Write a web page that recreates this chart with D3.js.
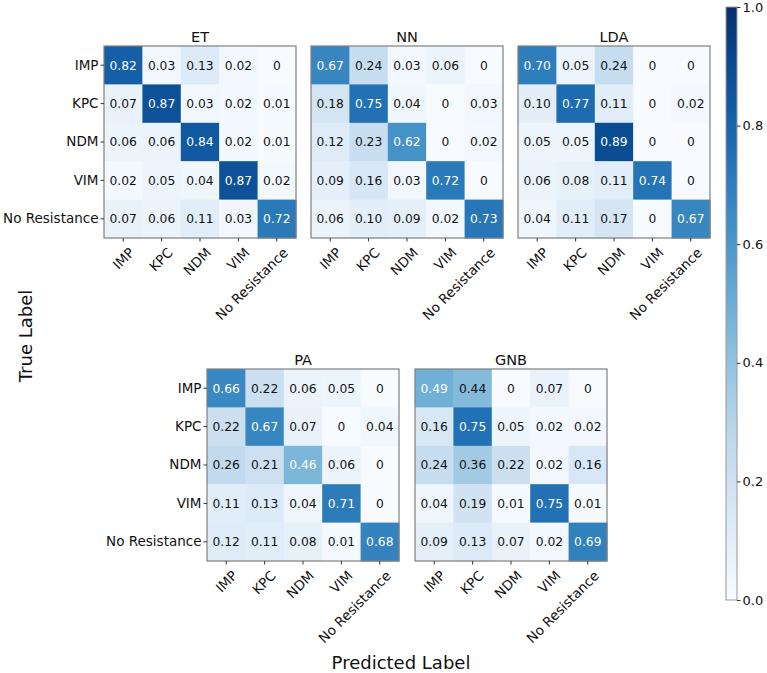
<!DOCTYPE html>
<html>
<head>
<meta charset="utf-8">
<script src="https://cdn.jsdelivr.net/npm/d3@7"></script>
<style>
  body { margin: 0; background: #fff; }
  svg text { font-family: "DejaVu Sans", sans-serif; }
  .axis path { display: none; }
  .axis line { stroke: #333; }
</style>
</head>
<body>
<div id="chart"></div>
<script>
// class labels (rows = true, columns = predicted)
const classes = ["IMP", "KPC", "NDM", "VIM", "No Resistance"];

// normalised confusion matrices, one per model
const etValues = [
    [0.82, 0.03, 0.13, 0.02, 0],
    [0.07, 0.87, 0.03, 0.02, 0.01],
    [0.06, 0.06, 0.84, 0.02, 0.01],
    [0.02, 0.05, 0.04, 0.87, 0.02],
    [0.07, 0.06, 0.11, 0.03, 0.72]
];
const nnValues = [
    [0.67, 0.24, 0.03, 0.06, 0],
    [0.18, 0.75, 0.04, 0, 0.03],
    [0.12, 0.23, 0.62, 0, 0.02],
    [0.09, 0.16, 0.03, 0.72, 0],
    [0.06, 0.10, 0.09, 0.02, 0.73]
];
const ldaValues = [
    [0.70, 0.05, 0.24, 0, 0],
    [0.10, 0.77, 0.11, 0, 0.02],
    [0.05, 0.05, 0.89, 0, 0],
    [0.06, 0.08, 0.11, 0.74, 0],
    [0.04, 0.11, 0.17, 0, 0.67]
];
const paValues = [
    [0.66, 0.22, 0.06, 0.05, 0],
    [0.22, 0.67, 0.07, 0, 0.04],
    [0.26, 0.21, 0.46, 0.06, 0],
    [0.11, 0.13, 0.04, 0.71, 0],
    [0.12, 0.11, 0.08, 0.01, 0.68]
];
const gnbValues = [
    [0.49, 0.44, 0, 0.07, 0],
    [0.16, 0.75, 0.05, 0.02, 0.02],
    [0.24, 0.36, 0.22, 0.02, 0.16],
    [0.04, 0.19, 0.01, 0.75, 0.01],
    [0.09, 0.13, 0.07, 0.02, 0.69]
];
const colorbarTicks = [0, 0.2, 0.4, 0.6, 0.8, 1.0];

// only the first matrix of each row carries the true-label ticks
const panels = [
    { name: "ET",  values: etValues,  x: 104, y: 46,  yTicks: true },
    { name: "NN",  values: nnValues,  x: 311, y: 46,  yTicks: false },
    { name: "LDA", values: ldaValues, x: 518, y: 46,  yTicks: false },
    { name: "PA",  values: paValues,  x: 207, y: 369, yTicks: true },
    { name: "GNB", values: gnbValues, x: 415, y: 369, yTicks: false }
];

const width = 767, height = 673;
const side = 192;

const svg = d3.select("#chart").append("svg")
    .attr("width", width)
    .attr("height", height);

const color = d3.scaleSequential(d3.interpolateBlues).domain([0, 1]);
const fmt = v => v === 0 ? "0" : v.toFixed(2);

panels.forEach(p => {
    let g = svg.append("g").attr("transform", "translate(" + p.x + "," + p.y + ")");
    let x = d3.scaleBand().domain(classes).range([0, side]);
    let y = d3.scaleBand().domain(classes).range([0, side]);

    let cells = [];
    p.values.forEach((row, i) => row.forEach((v, j) => {
        cells.push({ t: classes[i], p: classes[j], v: v });
    }));

    g.selectAll("rect.cell")
        .data(cells)
        .enter().append("rect")
        .attr("class", "cell")
        .attr("x", d => x(d.p))
        .attr("y", d => y(d.t))
        .attr("width", x.bandwidth() + 0.5)
        .attr("height", y.bandwidth() + 0.5)
        .style("fill", d => color(d.v));

    g.selectAll("text.val")
        .data(cells)
        .enter().append("text")
        .attr("class", "val")
        .attr("x", d => x(d.p) + x.bandwidth() / 2)
        .attr("y", d => y(d.t) + y.bandwidth() / 2)
        .attr("text-anchor", "middle")
        .attr("dy", "0.36em")
        .style("font-size", "12.3px")
        .style("fill", d => d.v > 0.45 ? "#ffffff" : "#111")
        .text(d => fmt(d.v));

    g.append("rect")
        .attr("width", side)
        .attr("height", side)
        .style("fill", "none")
        .style("stroke", "#808080")
        .style("stroke-width", 1.2);

    g.append("text")
        .attr("x", side / 2)
        .attr("y", -4)
        .attr("text-anchor", "middle")
        .style("font-size", "14.5px")
        .style("fill", "#111")
        .text(p.name);

    if (p.yTicks) {
        g.append("g")
            .attr("class", "axis")
            .call(d3.axisLeft(y).tickSize(3.5).tickPadding(2))
            .selectAll("text")
            .style("font-size", "13.5px")
            .style("fill", "#111");
    }

    let xa = g.append("g")
        .attr("class", "axis")
        .attr("transform", "translate(0," + side + ")")
        .call(d3.axisBottom(x).tickSize(3.5));
    xa.selectAll("text")
        .attr("y", 0)
        .attr("dy", 0)
        .attr("text-anchor", "end")
        .attr("transform", "translate(12,15.5) rotate(-45)")
        .style("font-size", "13.5px")
        .style("fill", "#111");
});

// colour bar
const cb = { x: 726, y: 7, w: 11, h: 593 };
const defs = svg.append("defs");
const grad = defs.append("linearGradient")
    .attr("id", "cbgrad")
    .attr("x1", 0).attr("y1", 1).attr("x2", 0).attr("y2", 0);
d3.range(0, 1.0001, 0.05).forEach(t => {
    grad.append("stop").attr("offset", t).attr("stop-color", color(t));
});
svg.append("rect")
    .attr("x", cb.x).attr("y", cb.y)
    .attr("width", cb.w).attr("height", cb.h)
    .style("fill", "url(#cbgrad)")
    .style("stroke", "#999")
    .style("stroke-width", 1);

const cbScale = d3.scaleLinear().domain([0, 1]).range([cb.y + cb.h, cb.y]);
svg.append("g")
    .attr("class", "axis")
    .attr("transform", "translate(" + (cb.x + cb.w) + ",0)")
    .call(d3.axisRight(cbScale).tickValues(colorbarTicks).tickFormat(d3.format(".1f")).tickSize(3.5).tickPadding(2))
    .selectAll("text")
    .style("font-size", "13px")
    .style("fill", "#111");

// shared axis labels
svg.append("text")
    .attr("transform", "translate(26,336) rotate(-90)")
    .attr("text-anchor", "middle")
    .attr("dy", "0.36em")
    .style("font-size", "18px")
    .style("fill", "#111")
    .text("True Label");

svg.append("text")
    .attr("x", 401)
    .attr("y", 669)
    .attr("text-anchor", "middle")
    .style("font-size", "18px")
    .style("fill", "#111")
    .text("Predicted Label");
</script>
</body>
</html>
